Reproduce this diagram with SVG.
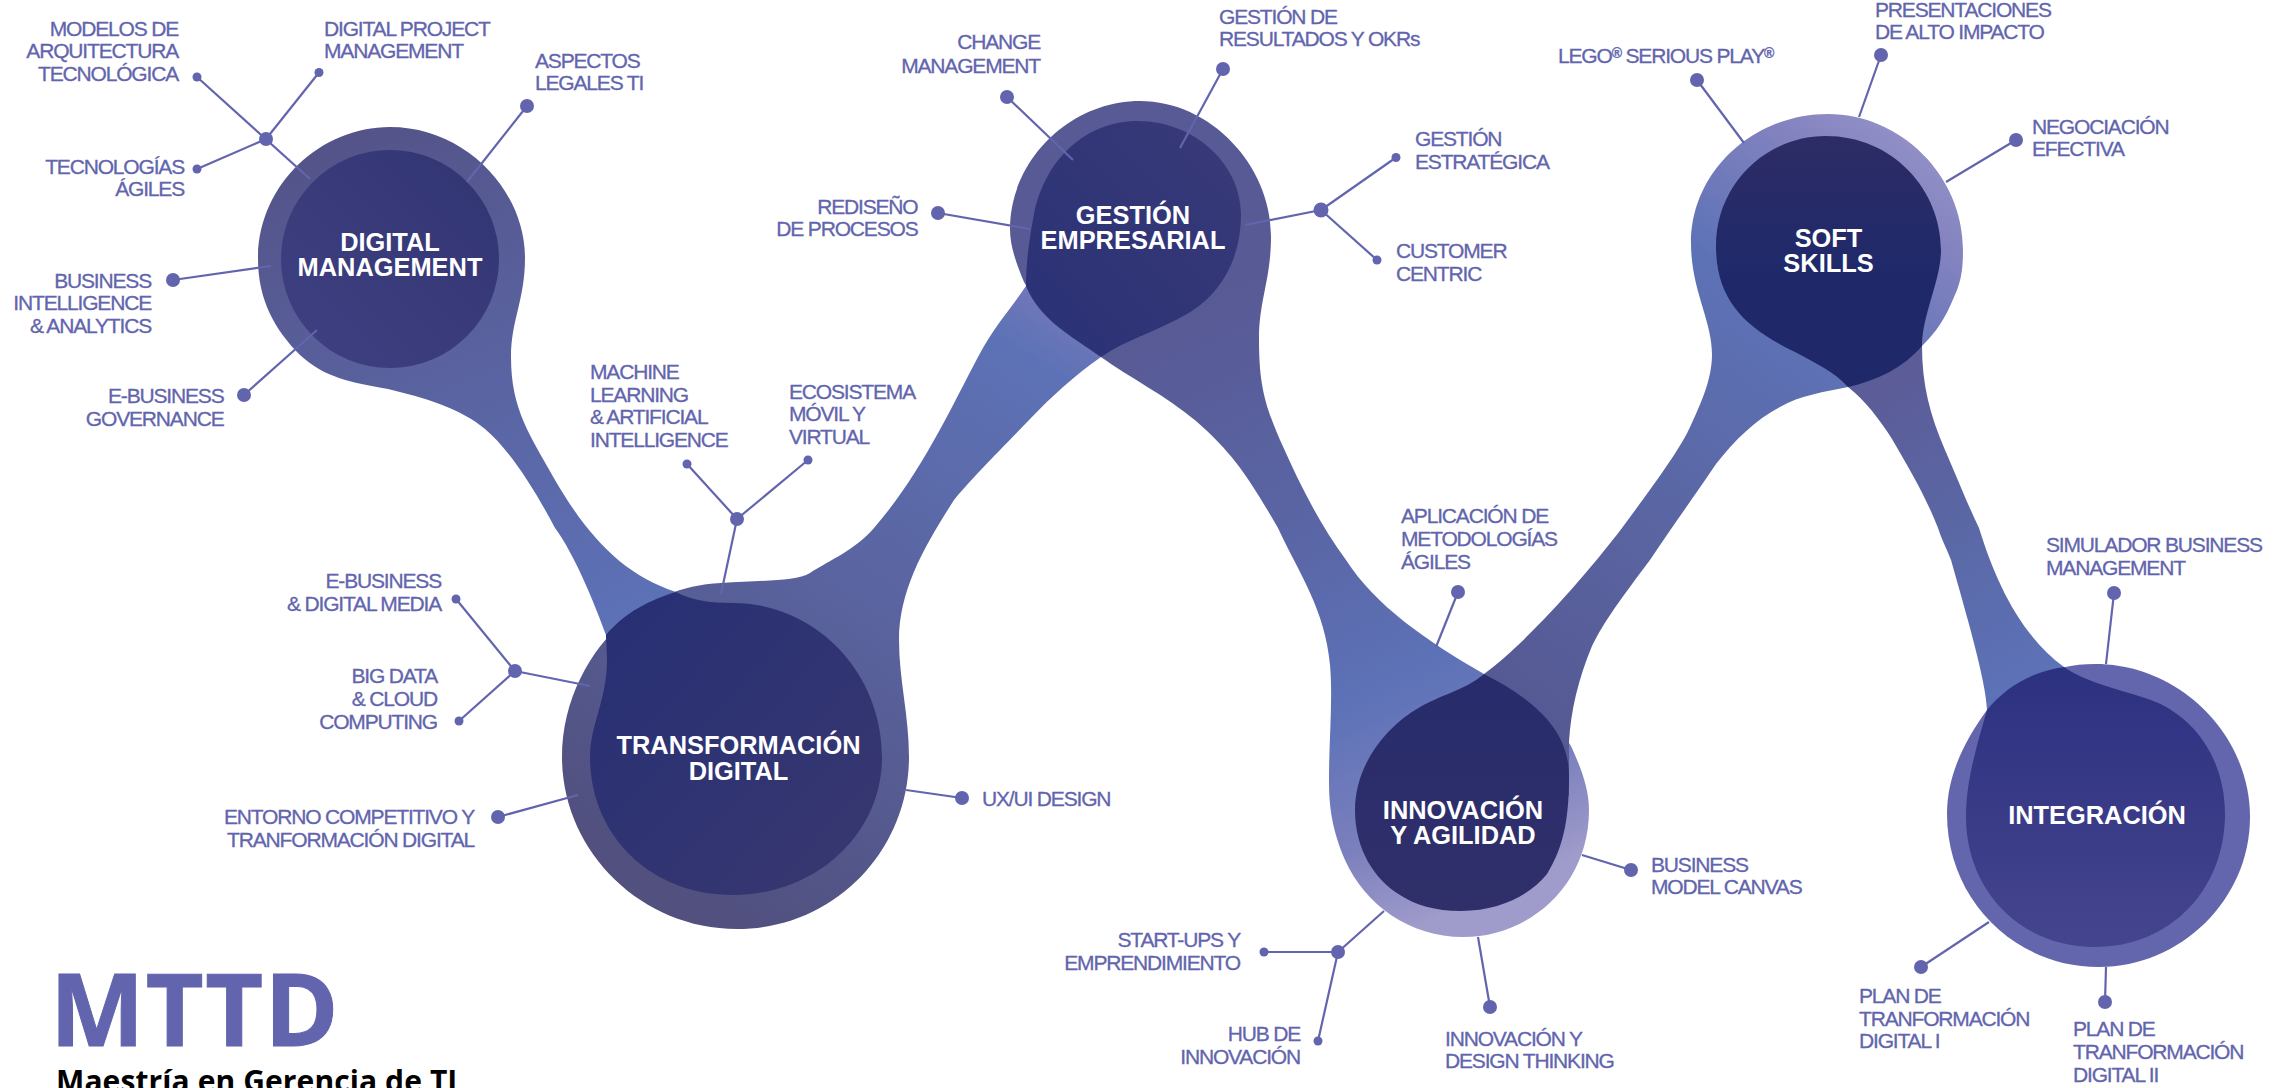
<svg xmlns="http://www.w3.org/2000/svg" width="2288" height="1088" viewBox="0 0 2288 1088">
<style>
text{font-family:"Liberation Sans",Arial,sans-serif}
.t{font-size:21px;letter-spacing:-1.17px;fill:#6265ad;stroke:#6265ad;stroke-width:.3}
.e{text-anchor:end}
.n{font-size:25.4px;font-weight:bold;fill:#fff;text-anchor:middle}
.c line{stroke:#6265ad;stroke-width:2.2;fill:none}
.c circle{fill:#6265ad}
.big{font-family:"Open Sans",sans-serif;font-weight:bold}
.r{font-size:14px;font-weight:bold}
</style>
<defs>
<linearGradient id="s1" gradientUnits="userSpaceOnUse" x1="390" y1="127" x2="610" y2="640"><stop offset="0" stop-color="#54548a"/><stop offset=".5" stop-color="#5a64a2"/><stop offset="1" stop-color="#5d72b8"/></linearGradient>
<linearGradient id="s2" gradientUnits="userSpaceOnUse" x1="700" y1="900" x2="1075" y2="300"><stop offset="0" stop-color="#51507f"/><stop offset=".5" stop-color="#5a64a0"/><stop offset=".9" stop-color="#5d72b6"/><stop offset="1" stop-color="#7579ba"/></linearGradient>
<linearGradient id="s3" gradientUnits="userSpaceOnUse" x1="1250" y1="280" x2="1520" y2="880"><stop offset="0" stop-color="#585a95"/><stop offset=".4" stop-color="#5a66a6"/><stop offset=".65" stop-color="#5d72b7"/><stop offset=".85" stop-color="#7a7fbd"/><stop offset="1" stop-color="#9f9bca"/></linearGradient>
<linearGradient id="s4" gradientUnits="userSpaceOnUse" x1="1530" y1="740" x2="1950" y2="170"><stop offset="0" stop-color="#555892"/><stop offset=".35" stop-color="#5a65a2"/><stop offset=".7" stop-color="#5d72b6"/><stop offset=".9" stop-color="#8282bf"/><stop offset="1" stop-color="#918fc6"/></linearGradient>
<linearGradient id="s5" gradientUnits="userSpaceOnUse" x1="1880" y1="390" x2="2040" y2="680"><stop offset="0" stop-color="#5b5c98"/><stop offset=".5" stop-color="#5a68a6"/><stop offset="1" stop-color="#5d72b8"/></linearGradient>
<linearGradient id="i1" x1="1" y1="0" x2="0" y2="1"><stop offset="0" stop-color="#323572"/><stop offset="1" stop-color="#3f4082"/></linearGradient>
<linearGradient id="i2" x1="0" y1="0" x2="1" y2="1"><stop offset="0" stop-color="#262f74"/><stop offset="1" stop-color="#393870"/></linearGradient>
<linearGradient id="i3" x1="1" y1="0" x2="0" y2="1"><stop offset="0" stop-color="#393a78"/><stop offset="1" stop-color="#293175"/></linearGradient>
<linearGradient id="i4" x1="0" y1="0" x2="0" y2="1"><stop offset="0" stop-color="#2d2c66"/><stop offset=".55" stop-color="#1f296a"/><stop offset="1" stop-color="#1f296a"/></linearGradient>
<linearGradient id="i5" x1="0" y1="0" x2="0" y2="1"><stop offset="0" stop-color="#282c6c"/><stop offset="1" stop-color="#302f6a"/></linearGradient>
<linearGradient id="i6" x1="0" y1="0" x2="0" y2="1"><stop offset="0" stop-color="#2c3180"/><stop offset="1" stop-color="#45448e"/></linearGradient>
</defs>
<g id="ribbons">
<path fill="url(#s1)" d="M390,127 C465,127 525,190 525,258 C525,300 511,320 511,357 C511,410 530,435 555,480 C590,540 625,575 676,592 L700,640 L610,680 L606,635 C595,605 575,555 555,528 C535,490 510,450 485,429 C460,408 425,398 388,389 C350,382 325,378 300,355 C275,330 258,300 258,259 C258,185 320,127 390,127 Z"/>
<path fill="url(#s2)" d="M737,929 C640,929 562,850 562,757 C562,700 590,650 625,620 C650,600 680,585 721,583 C760,580 795,582 810,573 C830,560 855,550 874,528 C920,475 950,410 978,357 C995,325 1010,310 1026,286 L1100,300 L1101,357 C1075,375 1050,398 1031,418 C1000,450 970,480 954,500 C925,545 899,590 899,640 C899,680 909,715 909,757 C909,850 835,929 737,929 Z"/>
<path fill="url(#s3)" d="M1140,101 C1210,101 1271,165 1271,236 C1271,280 1259,300 1259,339 C1259,385 1265,405 1280,440 C1300,485 1320,525 1346,560 C1375,605 1425,640 1484,674 C1530,700 1555,720 1571,746 C1582,770 1589,790 1589,810 C1589,885 1530,937 1463,937 C1410,937 1365,905 1345,860 C1330,825 1329,800 1329,778 C1329,740 1333,700 1330,665 C1325,610 1300,575 1278,528 C1250,480 1235,455 1196,421 C1165,395 1130,378 1101,357 C1075,340 1040,310 1024,282 C1015,260 1010,245 1010,229 C1010,160 1070,101 1140,101 Z"/>
<path fill="url(#s5)" d="M1922,346 C1922,385 1930,415 1945,450 C1958,480 1968,505 1979,528 C1995,580 2020,635 2064,667 L2000,720 L1987,710 C1986,680 1965,610 1951,560 C1945,545 1942,540 1938,528 C1925,495 1910,470 1892,439 C1880,420 1865,400 1848,387 L1880,340 Z"/>
<path fill="url(#s4)" d="M1484,674 C1530,640 1590,570 1622,528 C1650,490 1680,450 1691,425 C1705,395 1712,375 1712,354 C1712,320 1691,290 1691,243 C1691,170 1755,114 1828,114 C1900,114 1963,175 1963,250 C1963,275 1960,285 1951,304 C1942,325 1930,338 1922,346 C1900,365 1875,378 1848,387 C1825,392 1800,395 1780,407 C1755,420 1735,440 1716,464 C1695,495 1670,530 1650,560 C1620,600 1605,620 1592,646 C1578,680 1571,710 1569,742 L1569,796 L1480,800 Z"/>
<path fill="#6366ac" d="M2095,664 C2180,664 2250,735 2250,817 C2250,900 2180,967 2099,967 C2015,967 1947,900 1947,814 C1947,775 1965,740 1987,710 C2015,680 2055,664 2095,664 Z"/>
</g>
<g id="node-digital-management">
<circle cx="390" cy="259" r="109" fill="url(#i1)"/>
<text class="n"><tspan x="390" y="251">DIGITAL</tspan><tspan x="390" y="276">MANAGEMENT</tspan></text>
</g>
<g id="node-transformacion-digital">
<path fill="url(#i2)" d="M676,592 C690,600 710,603 733,603 C815,603 882,672 882,757 C882,835 815,895 733,895 C650,895 590,835 590,757 C590,725 607,700 607,660 L606,635 C625,612 650,600 676,592 Z"/>
<text class="n"><tspan x="738.5" y="754">TRANSFORMACIÓN</tspan><tspan x="738.5" y="780">DIGITAL</tspan></text>
</g>
<g id="node-gestion-empresarial">
<path fill="url(#i3)" d="M1138,121 C1195,121 1241,165 1241,214 C1241,260 1220,295 1187,314 C1160,330 1125,340 1101,357 C1070,335 1040,320 1026,286 C1026,260 1030,235 1034,214 C1045,160 1085,121 1138,121 Z"/>
<text class="n"><tspan x="1133" y="224">GESTIÓN</tspan><tspan x="1133" y="249">EMPRESARIAL</tspan></text>
</g>
<g id="node-innovacion-agilidad">
<path fill="url(#i5)" d="M1484,674 C1525,695 1569,725 1569,775 C1569,815 1565,845 1547,874 C1530,895 1500,911 1461,911 C1435,911 1415,905 1400,895 C1375,880 1355,850 1355,810 C1355,770 1380,730 1420,707 C1445,693 1465,690 1484,674 Z"/>
<text class="n"><tspan x="1463" y="819">INNOVACIÓN</tspan><tspan x="1463" y="844">Y AGILIDAD</tspan></text>
</g>
<g id="node-soft-skills">
<path fill="url(#i4)" d="M1826,136 C1893,136 1941,190 1941,250 C1941,280 1922,315 1922,346 C1903,368 1878,380 1848,387 C1835,372 1815,363 1795,352 C1745,328 1716,300 1716,246 C1716,185 1765,136 1826,136 Z"/>
<text class="n"><tspan x="1828.5" y="247">SOFT</tspan><tspan x="1828.5" y="272">SKILLS</tspan></text>
</g>
<g id="node-integracion">
<path fill="url(#i6)" d="M2064,667 C2085,682 2115,688 2148,699 C2195,715 2225,760 2225,814 C2225,890 2170,947 2095,947 C2020,947 1966,890 1966,817 C1966,780 1977,745 1987,710 C2005,688 2030,672 2064,667 Z"/>
<text class="n"><tspan x="2097" y="824">INTEGRACIÓN</tspan></text>
</g>
<g id="connectors" class="c">
<line x1="197" y1="77" x2="310" y2="179"/><line x1="319" y1="72.5" x2="266" y2="139"/><line x1="197" y1="169" x2="266" y2="139"/><circle cx="266" cy="139" r="7"/><circle cx="197" cy="77" r="4.5"/><circle cx="319" cy="72.5" r="4.5"/><circle cx="197" cy="169" r="4.5"/>
<line x1="527" y1="106" x2="467" y2="182"/><circle cx="527" cy="106" r="7"/>
<line x1="173" y1="280" x2="271" y2="266"/><circle cx="173" cy="280" r="7"/>
<line x1="244" y1="395" x2="317" y2="330"/><circle cx="244" cy="395" r="7"/>
<line x1="687" y1="464" x2="737" y2="519"/><line x1="808" y1="460" x2="737" y2="519"/><line x1="737" y1="519" x2="721" y2="594"/><circle cx="737" cy="519" r="7"/><circle cx="687" cy="464" r="4.5"/><circle cx="808" cy="460" r="4.5"/>
<line x1="1007" y1="97" x2="1073" y2="160"/><circle cx="1007" cy="97" r="7"/>
<line x1="1223" y1="69" x2="1180" y2="148"/><circle cx="1223" cy="69" r="7"/>
<line x1="938" y1="213" x2="1030" y2="229"/><circle cx="938" cy="213" r="7"/>
<line x1="1321" y1="210" x2="1245" y2="225"/><line x1="1321" y1="210" x2="1396" y2="157.5"/><line x1="1321" y1="210" x2="1377" y2="260"/><circle cx="1321" cy="210" r="7.5"/><circle cx="1396" cy="157.5" r="4.5"/><circle cx="1377" cy="260" r="4.5"/>
<line x1="1697" y1="80" x2="1744" y2="143"/><circle cx="1697" cy="80" r="7"/>
<line x1="1881" y1="55" x2="1859" y2="117"/><circle cx="1881" cy="55" r="7"/>
<line x1="2016" y1="140" x2="1946" y2="182"/><circle cx="2016" cy="140" r="7"/>
<line x1="456" y1="599" x2="515" y2="671"/><line x1="459" y1="721" x2="515" y2="671"/><line x1="515" y1="671" x2="590" y2="686"/><circle cx="515" cy="671" r="7"/><circle cx="456" cy="599" r="4.5"/><circle cx="459" cy="721" r="4.5"/>
<line x1="498" y1="817" x2="578" y2="795"/><circle cx="498" cy="817" r="7"/>
<line x1="962" y1="798" x2="906" y2="790"/><circle cx="962" cy="798" r="7"/>
<line x1="1458" y1="592" x2="1436" y2="647"/><circle cx="1458" cy="592" r="7"/>
<line x1="1631" y1="870" x2="1582" y2="855"/><circle cx="1631" cy="870" r="7"/>
<line x1="1490" y1="1007" x2="1478" y2="937"/><circle cx="1490" cy="1007" r="7"/>
<line x1="1264" y1="952" x2="1338" y2="952"/><line x1="1318" y1="1041" x2="1338" y2="952"/><line x1="1338" y1="952" x2="1384" y2="911"/><circle cx="1338" cy="952" r="7"/><circle cx="1264" cy="952" r="4.5"/><circle cx="1318" cy="1041" r="4.5"/>
<line x1="2114" y1="593" x2="2106" y2="664"/><circle cx="2114" cy="593" r="7"/>
<line x1="1921" y1="967" x2="1989" y2="922"/><circle cx="1921" cy="967" r="7"/>
<line x1="2105" y1="1002" x2="2106" y2="967"/><circle cx="2105" cy="1002" r="7"/>
</g>
<g id="labels">
<text class="t e"><tspan x="178" y="36">MODELOS DE</tspan><tspan x="178" y="58">ARQUITECTURA</tspan><tspan x="178" y="81">TECNOLÓGICA</tspan></text>
<text class="t"><tspan x="324" y="36">DIGITAL PROJECT</tspan><tspan x="324" y="58">MANAGEMENT</tspan></text>
<text class="t"><tspan x="535" y="68">ASPECTOS</tspan><tspan x="535" y="90">LEGALES TI</tspan></text>
<text class="t e"><tspan x="184" y="174">TECNOLOGÍAS</tspan><tspan x="184" y="196">ÁGILES</tspan></text>
<text class="t e"><tspan x="151" y="288">BUSINESS</tspan><tspan x="151" y="310">INTELLIGENCE</tspan><tspan x="151" y="333">&amp; ANALYTICS</tspan></text>
<text class="t e"><tspan x="223.5" y="403">E-BUSINESS</tspan><tspan x="223.5" y="426">GOVERNANCE</tspan></text>
<text class="t"><tspan x="590" y="379">MACHINE</tspan><tspan x="590" y="402">LEARNING</tspan><tspan x="590" y="424">&amp; ARTIFICIAL</tspan><tspan x="590" y="447">INTELLIGENCE</tspan></text>
<text class="t"><tspan x="789" y="399">ECOSISTEMA</tspan><tspan x="789" y="421">MÓVIL Y</tspan><tspan x="789" y="444">VIRTUAL</tspan></text>
<text class="t e"><tspan x="1040" y="49">CHANGE</tspan><tspan x="1040" y="72.5">MANAGEMENT</tspan></text>
<text class="t"><tspan x="1219" y="24">GESTIÓN DE</tspan><tspan x="1219" y="46">RESULTADOS Y OKRs</tspan></text>
<text class="t"><tspan x="1415" y="146">GESTIÓN</tspan><tspan x="1415" y="169">ESTRATÉGICA</tspan></text>
<text class="t"><tspan x="1396" y="258">CUSTOMER</tspan><tspan x="1396" y="281">CENTRIC</tspan></text>
<text class="t e"><tspan x="917.5" y="213.5">REDISEÑO</tspan><tspan x="917.5" y="236">DE PROCESOS</tspan></text>
<text class="t" x="1558" y="62.5">LEGO<tspan class="r" dy="-5">®</tspan><tspan dy="5"> SERIOUS PLAY</tspan><tspan class="r" dy="-5">®</tspan></text>
<text class="t"><tspan x="1875" y="17">PRESENTACIONES</tspan><tspan x="1875" y="39">DE ALTO IMPACTO</tspan></text>
<text class="t"><tspan x="2032" y="134">NEGOCIACIÓN</tspan><tspan x="2032" y="156">EFECTIVA</tspan></text>
<text class="t"><tspan x="2046" y="552">SIMULADOR BUSINESS</tspan><tspan x="2046" y="575">MANAGEMENT</tspan></text>
<text class="t"><tspan x="1401" y="523">APLICACIÓN DE</tspan><tspan x="1401" y="546">METODOLOGÍAS</tspan><tspan x="1401" y="569">ÁGILES</tspan></text>
<text class="t e"><tspan x="441" y="588">E-BUSINESS</tspan><tspan x="441" y="610.5">&amp; DIGITAL MEDIA</tspan></text>
<text class="t e"><tspan x="437" y="683">BIG DATA</tspan><tspan x="437" y="706">&amp; CLOUD</tspan><tspan x="437" y="729">COMPUTING</tspan></text>
<text class="t e"><tspan x="474" y="824">ENTORNO COMPETITIVO Y</tspan><tspan x="474" y="847">TRANFORMACIÓN DIGITAL</tspan></text>
<text class="t" x="982" y="806">UX/UI DESIGN</text>
<text class="t e"><tspan x="1240" y="947">START-UPS Y</tspan><tspan x="1240" y="970">EMPRENDIMIENTO</tspan></text>
<text class="t e"><tspan x="1300" y="1041">HUB DE</tspan><tspan x="1300" y="1064">INNOVACIÓN</tspan></text>
<text class="t"><tspan x="1445" y="1046">INNOVACIÓN Y</tspan><tspan x="1445" y="1068">DESIGN THINKING</tspan></text>
<text class="t"><tspan x="1651" y="872">BUSINESS</tspan><tspan x="1651" y="894">MODEL CANVAS</tspan></text>
<text class="t"><tspan x="1859" y="1003">PLAN DE</tspan><tspan x="1859" y="1025.5">TRANFORMACIÓN</tspan><tspan x="1859" y="1048">DIGITAL I</tspan></text>
<text class="t"><tspan x="2073" y="1036">PLAN DE</tspan><tspan x="2073" y="1059">TRANFORMACIÓN</tspan><tspan x="2073" y="1082">DIGITAL II</tspan></text>
<text class="big" x="50" y="1046" font-size="100" letter-spacing="1.5" fill="#6265ad" stroke="#6265ad" stroke-width="1">MTTD</text>
<text class="big" x="56" y="1092" font-size="30" letter-spacing=".1" fill="#000">Maestría en Gerencia de TI</text>
</g>
</svg>
